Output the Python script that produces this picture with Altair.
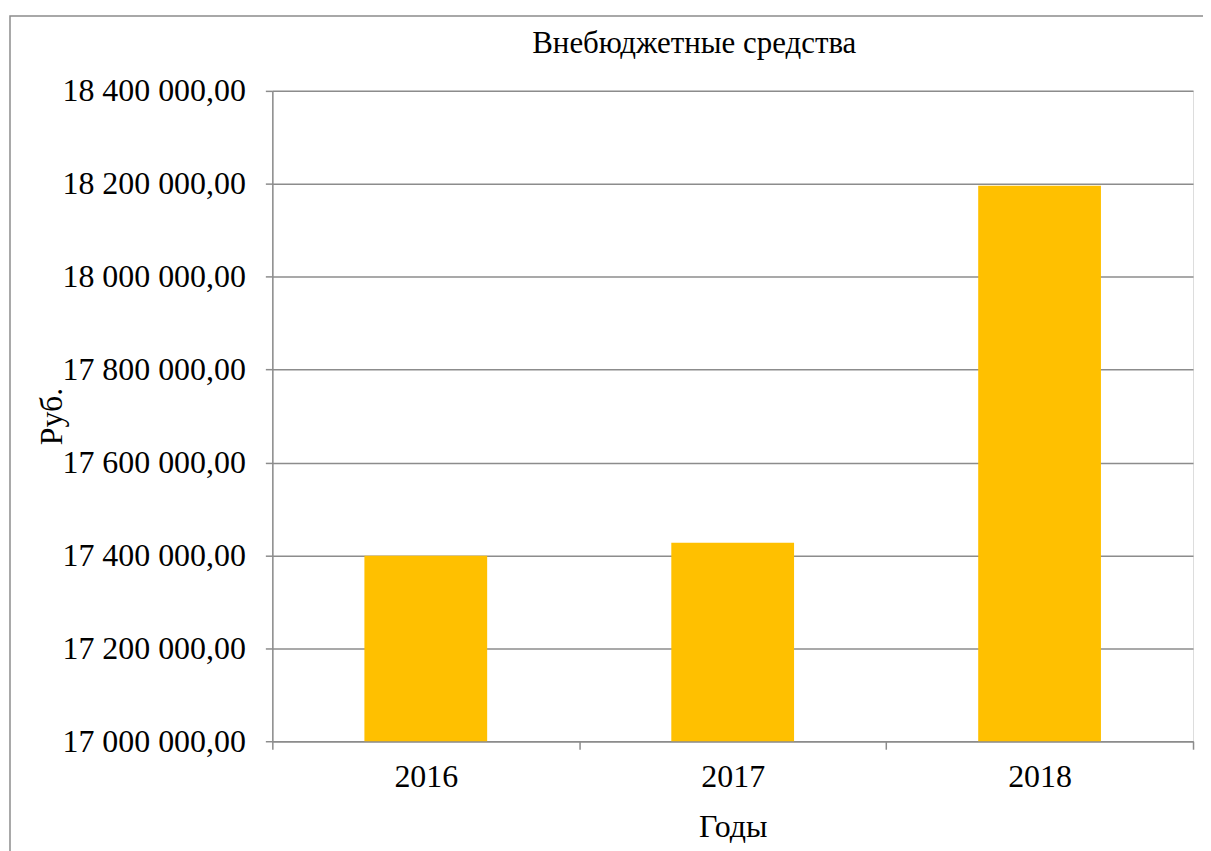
import altair as alt
import pandas as pd

years = ["2016", "2017", "2018"]
values = [17399500, 17427000, 18196000]
y_ticks = [17000000, 17200000, 17400000, 17600000, 17800000, 18000000, 18200000, 18400000]
title_text = ["Внебюджетные средства"]

df = pd.DataFrame({"Год": years, "Сумма": values})
tdf = pd.DataFrame({"t": title_text})

FONT = "Liberation Serif"
GRAY = "#8c8c8c"
W, H = 923, 652

bars = alt.Chart(df).mark_bar(color="#FFC000", clip=True,
                              width=alt.RelativeBandSize(0.4)).encode(
    x=alt.X("Год:N",
            title="Годы",
            scale=alt.Scale(paddingInner=0, paddingOuter=0),
            axis=alt.Axis(labelAngle=0, grid=False, tickBand="extent",
                          domainColor=GRAY, domainWidth=1.5,
                          tickColor=GRAY, tickWidth=1.5, tickSize=8,
                          labelFont=FONT, labelFontSize=32, labelColor="black",
                          labelPadding=12,
                          titleFont=FONT, titleFontSize=32, titleFontWeight="normal",
                          titleColor="black", titlePadding=20)),
    y=alt.Y("Сумма:Q",
            title="Руб.",
            scale=alt.Scale(domain=[17000000, 18400000], zero=False, nice=False),
            axis=alt.Axis(values=y_ticks, format=",.2f",
                          grid=True, gridColor=GRAY, gridWidth=1.5, gridOpacity=1,
                          domainColor=GRAY, domainWidth=1.5,
                          tickColor=GRAY, tickWidth=1.5, tickSize=7,
                          labelFont=FONT, labelFontSize=32, labelColor="black",
                          labelPadding=20, labelLimit=400,
                          titleFont=FONT, titleFontSize=32, titleFontWeight="normal",
                          titleColor="black", titlePadding=4)),
)

frame = alt.Chart(tdf).mark_rect(fill=None, stroke=GRAY, strokeWidth=1.5, clip=False).encode(
    x=alt.value(-263), x2=alt.value(1100), y=alt.value(-75), y2=alt.value(900)
)

title = alt.Chart(tdf).mark_text(font=FONT, fontSize=31, fontWeight="normal", color="black",
                                 align="center", baseline="alphabetic").encode(
    x=alt.value(423), y=alt.value(-38), text="t:N"
)

chart = alt.layer(frame, bars, title).properties(
    width=W, height=H,
    autosize=alt.AutoSizeParams(type="none"),
    padding={"left": 265, "top": 82, "right": 10, "bottom": 120},
).configure_view(stroke=None).configure(
    font=FONT,
    locale={"number": {"decimal": ",", "thousands": " ", "grouping": [3], "currency": ["", ""]}}
).configure_text(font=FONT)

chart.save("out.html", embed_options={"renderer": "svg", "actions": False})
